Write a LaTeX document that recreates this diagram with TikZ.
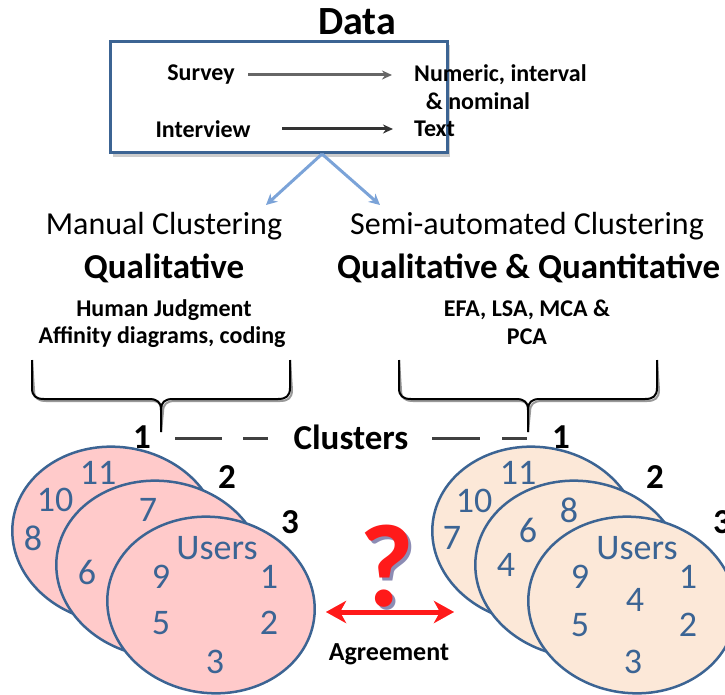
\documentclass[tikz,border=0pt]{standalone}
\usepackage{fontspec}
\setmainfont{Carlito}
\usetikzlibrary{arrows.meta,shapes.geometric}
\definecolor{bordblue}{HTML}{3C6493}
\definecolor{arrblue}{HTML}{7BA3D8}
\definecolor{numblue}{HTML}{3B6494}
\definecolor{pinkfill}{HTML}{FFCACA}
\definecolor{peachfill}{HTML}{FCE8D8}
\definecolor{qred}{HTML}{FF1A1A}
\definecolor{qshadow}{HTML}{8C8CB4}
\newcommand\myfs[1]{\fontsize{#1}{#1}\selectfont}
\begin{document}
\begin{tikzpicture}[x=1pt,y=-1pt,
  smallb/.style={font=\myfs{24}\bfseries, inner sep=0pt},
  headr/.style={font=\myfs{32}, inner sep=0pt},
  headb/.style={font=\myfs{35}\bfseries, inner sep=0pt},
  num/.style={font=\myfs{36}, text=numblue, inner sep=0pt},
  lab/.style={font=\myfs{35}\bfseries, inner sep=0pt},
  ell/.style={draw=bordblue, line width=2.5pt, ellipse, inner sep=0pt,
              minimum width=208pt, minimum height=176pt, rotate=-8},
  dashln/.style={draw=black!75, line width=3pt},
  brace/.style={draw=black, line width=2pt, line join=round},
  braceshadow/.style={draw=black!40, line width=2pt, line join=round},
  bluearrow/.style={draw=arrblue, line width=3pt, -{Stealth[length=11pt,width=11pt]}},
  agarrow/.style={line width=5pt, {Stealth[length=20pt,width=22pt,inset=6pt]}-{Stealth[length=20pt,width=22pt,inset=6pt]}},
]
\useasboundingbox (0,0) rectangle (725,695);

% Title
\node[font=\myfs{40}\bfseries, inner sep=0pt] (data) at (357,22) {Data};

% Data box
\fill[black!20] (113,45) rectangle (450,157);
\node[draw=bordblue, line width=3pt, fill=white, minimum width=337pt, minimum height=111pt, inner sep=0pt] (box) at (278.5,97.5) {};

\node[smallb] (survey) at (201,75) {Survey};
\node[smallb, anchor=west] (numeric) at (414,75) {Numeric, interval};
\node[smallb] (nominal) at (478,101) {\& nominal};
\node[smallb] (interview) at (203,129) {Interview};
\node[smallb, anchor=west] (text) at (414,129) {Text};
\coordinate (s1) at (248,75); \coordinate (s2) at (392,75);
\coordinate (i1) at (282,129); \coordinate (i2) at (393,129);
\draw[black!60, line width=3pt, -{Stealth[length=10pt,width=9pt]}] (s1) -- (s2);
\draw[black!80, line width=3pt, -{Stealth[length=10pt,width=9pt]}] (i1) -- (i2);

% blue arrows
\coordinate (bsrc) at (322,154);
\coordinate (lt) at (266,205);
\coordinate (rt) at (380,205);
\draw[bluearrow] (bsrc) -- (lt);
\draw[bluearrow] (bsrc) -- (rt);

% Left column
\node[headr] (manual) at (164,226) {Manual Clustering};
\node[headb] (qual) at (164,268) {Qualitative};
\node[smallb] (human) at (164,310) {Human Judgment};
\node[smallb] (affin) at (162,337) {Affinity diagrams, coding};

% Right column
\node[headr] (semi) at (527,226) {Semi-automated Clustering};
\node[headb, anchor=west] (qq) at (337,268) {Qualitative \& Quantitative};
\node[smallb] (efa) at (527,310) {EFA, LSA, MCA \&};
\node[smallb] (pca) at (527,337) {PCA};

% Braces
\foreach \sx/\ex/\mx/\nm in {32/290/161/lb, 399/657/528/rb}{
  \coordinate (\nm a) at (\sx,360);
  \coordinate (\nm b) at (\ex,360);
  \coordinate (\nm t) at (\mx,432);
  \draw[braceshadow, shift={(2,2)}]
    (\nm a) -- (\sx,388) .. controls (\sx,396) and (\sx+4,399) .. (\sx+12,399)
    -- (\mx-12,399) .. controls (\mx-4,399) and (\mx,402) .. (\mx,410) -- (\nm t)
    (\nm b) -- (\ex,388) .. controls (\ex,396) and (\ex-4,399) .. (\ex-12,399)
    -- (\mx+12,399) .. controls (\mx+4,399) and (\mx,402) .. (\mx,410);
  \draw[brace]
    (\nm a) -- (\sx,388) .. controls (\sx,396) and (\sx+4,399) .. (\sx+12,399)
    -- (\mx-12,399) .. controls (\mx-4,399) and (\mx,402) .. (\mx,410) -- (\nm t)
    (\nm b) -- (\ex,388) .. controls (\ex,396) and (\ex-4,399) .. (\ex-12,399)
    -- (\mx+12,399) .. controls (\mx+4,399) and (\mx,402) .. (\mx,410);
}

% Clusters line
\node[lab] (one1) at (142,437) {1};
\node[lab] (clusters) at (351,437) {Clusters};
\node[lab] (one2) at (561,437) {1};
\coordinate (d1a) at (175,438); \coordinate (d1b) at (222,438);
\coordinate (d2a) at (243,438); \coordinate (d2b) at (268,438);
\coordinate (d3a) at (432,438); \coordinate (d3b) at (480,438);
\coordinate (d4a) at (502,438); \coordinate (d4b) at (527,438);
\draw[dashln] (d1a) -- (d1b); \draw[dashln] (d2a) -- (d2b);
\draw[dashln] (d3a) -- (d3b); \draw[dashln] (d4a) -- (d4b);

% Left ellipses
\node[ell, fill=pinkfill] (le1) at (116,535) {};
\node[num] (l11) at (98,473) {11};
\node[num] (l10) at (55,500) {10};
\node[num] (l8) at (33,538) {8};
\node[ell, fill=pinkfill] (le2) at (160,569) {};
\node[num] (l7) at (148,510) {7};
\node[num] (l6) at (87,572) {6};
\node[ell, fill=pinkfill] (le3) at (211,605) {};
\node[num] (lusers) at (217,548) {Users};
\node[num] (l9) at (161,577) {9};
\node[num] (l1) at (269,577) {1};
\node[num] (l5) at (161,623) {5};
\node[num] (l2) at (269,623) {2};
\node[num] (l3) at (215,662) {3};
\node[lab] (lc2) at (227,477) {2};
\node[lab] (lc3) at (290,522) {3};

% Right ellipses
\node[ell, fill=peachfill] (re1) at (536,535) {};
\node[num] (r11) at (518,473) {11};
\node[num] (r10) at (474,501) {10};
\node[num] (r7) at (452,538) {7};
\node[ell, fill=peachfill] (re2) at (579,569) {};
\node[num] (r8) at (569,510) {8};
\node[num] (r6) at (528,530) {6};
\node[num] (r4a) at (506,565) {4};
\node[ell, fill=peachfill] (re3) at (632,605) {};
\node[num] (rusers) at (637,548) {Users};
\node[num] (r9) at (580,577) {9};
\node[num] (r1) at (688,577) {1};
\node[num] (r4) at (635,600) {4};
\node[num] (r5) at (580,625) {5};
\node[num] (r2) at (688,625) {2};
\node[num] (r3) at (633,662) {3};
\node[lab] (rc2) at (655,477) {2};
\node[lab] (rc3) at (722,522) {3};

% Question mark and agreement arrow
\node[font=\myfs{118}\bfseries, text=qshadow, inner sep=0pt] (qs) at (390,569) {?};
\node[font=\myfs{118}\bfseries, text=qred, inner sep=0pt] (q) at (387,566) {?};
\coordinate (ag1) at (326,612);
\coordinate (ag2) at (454,612);
\draw[agarrow, red!30, shift={(1,2)}] (ag1) -- (ag2);
\draw[agarrow, qred] (ag1) -- (ag2);
\node[smallb, font=\myfs{26}\bfseries] (agree) at (389,654) {Agreement};
\end{tikzpicture}
\end{document}
